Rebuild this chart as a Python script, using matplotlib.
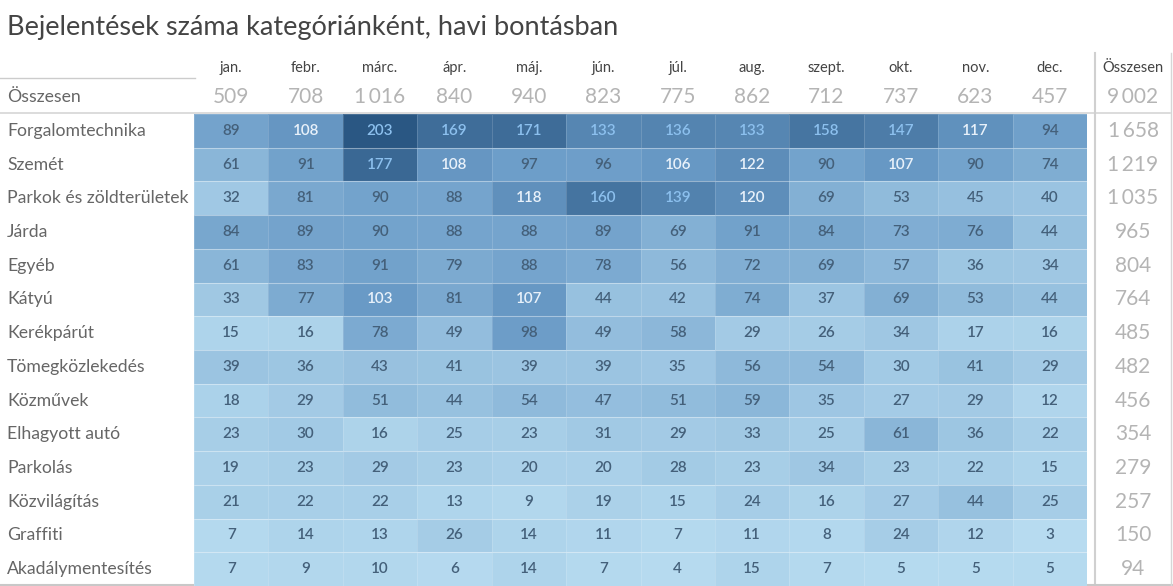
import numpy as np
import matplotlib.pyplot as plt
from matplotlib.colors import LinearSegmentedColormap

# Data
months = ['jan.', 'febr.', 'márc.', 'ápr.', 'máj.', 'jún.', 'júl.', 'aug.', 'szept.', 'okt.', 'nov.', 'dec.']
categories = ['Forgalomtechnika', 'Szemét', 'Parkok és zöldterületek', 'Járda', 'Egyéb', 'Kátyú',
              'Kerékpárút', 'Tömegközlekedés', 'Közművek', 'Elhagyott autó', 'Parkolás',
              'Közvilágítás', 'Graffiti', 'Akadálymentesítés']
counts = [
    [89, 108, 203, 169, 171, 133, 136, 133, 158, 147, 117, 94],
    [61, 91, 177, 108, 97, 96, 106, 122, 90, 107, 90, 74],
    [32, 81, 90, 88, 118, 160, 139, 120, 69, 53, 45, 40],
    [84, 89, 90, 88, 88, 89, 69, 91, 84, 73, 76, 44],
    [61, 83, 91, 79, 88, 78, 56, 72, 69, 57, 36, 34],
    [33, 77, 103, 81, 107, 44, 42, 74, 37, 69, 53, 44],
    [15, 16, 78, 49, 98, 49, 58, 29, 26, 34, 17, 16],
    [39, 36, 43, 41, 39, 39, 35, 56, 54, 30, 41, 29],
    [18, 29, 51, 44, 54, 47, 51, 59, 35, 27, 29, 12],
    [23, 30, 16, 25, 23, 31, 29, 33, 25, 61, 36, 22],
    [19, 23, 29, 23, 20, 20, 28, 23, 34, 23, 22, 15],
    [21, 22, 22, 13, 9, 19, 15, 24, 16, 27, 44, 25],
    [7, 14, 13, 26, 14, 11, 7, 11, 8, 24, 12, 3],
    [7, 9, 10, 6, 14, 7, 4, 15, 7, 5, 5, 5],
]

grid = np.array(counts)
month_totals = grid.sum(axis=0)
row_totals = grid.sum(axis=1)
grand_total = grid.sum()


def hu(n):
    # Hungarian thousands separator (thin space look)
    return f'{n:,}'.replace(',', '\u2009')


plt.rcParams['font.family'] = ['Lato', 'DejaVu Sans']

W, H = 1173, 586
fig = plt.figure(figsize=(W / 100, H / 100), dpi=100)

# background axes in pixel coordinates for labels and rules
bg = fig.add_axes([0, 0, 1, 1])
bg.set_xlim(0, W)
bg.set_ylim(H, 0)
bg.axis('off')

# heatmap axes
gx0, gx1, gy0, gy1 = 194, 1087, 114, 586
ax = fig.add_axes([gx0 / W, 1 - gy1 / H, (gx1 - gx0) / W, (gy1 - gy0) / H])
cmap = LinearSegmentedColormap.from_list('tblue', ['#b9ddf1', '#6a9bc7', '#2a5783'])
nrow, ncol = grid.shape
ax.pcolormesh(np.arange(ncol + 1), np.arange(nrow + 1), grid, cmap=cmap, vmin=0, vmax=203,
              edgecolors=(1, 1, 1, 0.15), linewidth=0.6)
ax.set_xlim(0, ncol)
ax.set_ylim(nrow, 0)
ax.axis('off')
# faint horizontal row separators
for i in range(1, nrow):
    ax.axhline(i, color='white', alpha=0.3, lw=0.8)

for i in range(nrow):
    for j in range(ncol):
        v = grid[i, j]
        if v >= 130:
            c = '#8cc0ee'
        elif v >= 100:
            c = '#e8f1fa'
        else:
            c = '#44607a'
        ax.text(j + 0.5, i + 0.5, str(v), ha='center', va='center', fontsize=11,
                color=c, fontweight='semibold')

colw = (gx1 - gx0) / ncol
rowh = (gy1 - gy0) / nrow

# title
bg.text(7, 28, 'Bejelentések száma kategóriánként, havi bontásban', fontsize=19.5,
        color='#444444', va='center', ha='left')

# month headers and monthly totals
for j, m in enumerate(months):
    cx = gx0 + colw * (j + 0.5)
    bg.text(cx, 68, m, ha='center', va='center', fontsize=10.5, color='#444444')
    bg.text(cx, 97, hu(month_totals[j]), ha='center', va='center', fontsize=15,
            color='#b4b4b4')

bg.text(1133, 68, 'Összesen', ha='center', va='center', fontsize=10.5, color='#444444')
bg.text(1133, 97, hu(grand_total), ha='center', va='center', fontsize=15, color='#b4b4b4')
bg.text(7, 97, 'Összesen', ha='left', va='center', fontsize=12.7, color='#666666')

# category labels and row totals
for i, cat in enumerate(categories):
    cy = gy0 + rowh * (i + 0.5)
    bg.text(7, cy, cat, ha='left', va='center', fontsize=12.7, color='#666666')
    bg.text(1133, cy, hu(row_totals[i]), ha='center', va='center', fontsize=15,
            color='#b4b4b4')

# rules
bg.plot([0, 195], [78, 78], color='#cccccc', lw=1)
bg.plot([0, 1170], [113, 113], color='#d6d6d6', lw=1.2)
bg.plot([1095, 1095], [53, 586], color='#d0d0d0', lw=1.5)
bg.plot([0, 1173], [585, 585], color='#c8c8c8', lw=1.5)
bg.plot([1171, 1171], [53, 586], color='#d6d6d6', lw=1)

fig.savefig('out.png', dpi=100)
